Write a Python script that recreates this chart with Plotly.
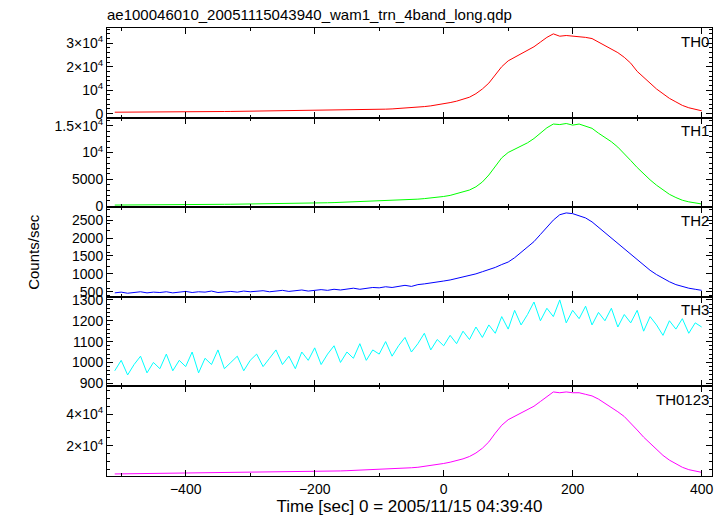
import plotly.graph_objects as go

time_sec = list(range(-510, 401, 10))

# counts/sec (TH0, TH1, TH0123 in thousands)
th0_k = [0.6, 0.6, 0.62, 0.63, 0.65, 0.66, 0.68, 0.7, 0.72, 0.74, 0.76, 0.78, 0.8, 0.82, 0.84, 0.86, 0.88, 0.9, 0.92, 0.95, 0.98, 1.0,
         1.02, 1.05, 1.08, 1.1, 1.13, 1.16, 1.2, 1.23, 1.27, 1.3, 1.35, 1.4, 1.45, 1.5, 1.55, 1.6, 1.65, 1.7, 1.75, 1.8,
         1.9, 2.0, 2.15, 2.3, 2.5, 2.7, 3.0, 3.3, 3.7, 4.2,
         4.7, 5.3, 6.0, 7.0, 8.5, 10.5, 13, 16.5, 20, 22.5,
         24, 25.5, 27, 28.5, 30.5, 32.5, 34, 33, 33.3, 33,
         33, 32.5, 32, 30.5, 29, 27.5, 26, 24, 21.5, 18,
         15.5, 13, 10.5, 8.5, 6.5, 5, 3.5, 2.5, 1.8, 1.2]
th1_k = [0.2, 0.2, 0.21, 0.22, 0.22, 0.23, 0.24, 0.25, 0.25, 0.26, 0.27, 0.28, 0.29, 0.3, 0.31, 0.32, 0.33, 0.34, 0.35, 0.36, 0.38, 0.4,
         0.41, 0.42, 0.44, 0.46, 0.48, 0.5, 0.52, 0.54, 0.56, 0.58, 0.6, 0.63, 0.66, 0.7, 0.73, 0.76, 0.8, 0.84, 0.88, 0.92,
         0.97, 1.02, 1.08, 1.15, 1.22, 1.3, 1.4, 1.5, 1.65, 1.8,
         2.0, 2.3, 2.6, 3.0, 3.6, 4.5, 5.8, 7.5, 9.0, 10.0,
         10.6, 11.2, 11.8, 12.6, 13.6, 14.6, 15.3, 15.2, 15.4, 15.1,
         15.3, 14.9, 14.5, 13.6, 12.8, 12.0, 11.0, 9.8, 8.5, 7.2,
         6.0, 4.9, 3.9, 3.0, 2.2, 1.6, 1.1, 0.8, 0.6, 0.4]
th2 = [470, 490, 460, 480, 500, 470, 490, 480, 500, 470, 490, 510, 480, 500, 490, 520, 480, 500, 510, 490, 520, 500,
       510, 530, 500, 520, 540, 510, 530, 550, 520, 540, 560, 540, 570, 550, 580, 600, 570, 600, 620, 610,
       640, 620, 660, 680, 650, 700, 720, 740, 770, 800,
       830, 870, 900, 960, 1000, 1060, 1110, 1180, 1260, 1330,
       1450, 1600, 1750, 1900, 2100, 2300, 2500, 2650, 2700, 2680,
       2620, 2560, 2450, 2300, 2150, 2000, 1850, 1700, 1550, 1400,
       1250, 1100, 980, 870, 780, 700, 640, 600, 570, 540]
th3 = [960, 1010, 940, 990, 1030, 950, 1000, 970, 1040, 960, 1010, 980, 1050, 950, 1020, 990, 1060, 970, 1000, 1030, 960, 1010,
       1040, 980, 1020, 1060, 990, 1030, 970, 1050, 1010, 1070, 990, 1040, 1080, 1000, 1050, 1020, 1090, 1010, 1060, 1040,
       1100, 1030, 1080, 1120, 1050, 1090, 1140, 1060, 1110, 1080,
       1130, 1090, 1150, 1110, 1170, 1120, 1180, 1140, 1220, 1160,
       1250, 1180, 1230, 1290, 1200, 1260, 1220, 1300, 1190, 1250,
       1210, 1270, 1180, 1240, 1200, 1260, 1170, 1230, 1190, 1250,
       1150, 1220, 1180, 1130, 1200, 1160, 1210, 1140, 1190, 1170]
th0123_k = [2.3, 2.35, 2.35, 2.4, 2.4, 2.45, 2.45, 2.5, 2.55, 2.55, 2.6, 2.65, 2.7, 2.7, 2.75, 2.8, 2.85, 2.9, 2.95, 3.0, 3.05, 3.1,
            3.15, 3.2, 3.3, 3.35, 3.4, 3.5, 3.55, 3.65, 3.7, 3.8, 3.9, 4.0, 4.1, 4.2, 4.35, 4.5, 4.6, 4.75, 4.9, 5.0,
            5.2, 5.4, 5.6, 5.9, 6.2, 6.5, 7.0, 7.5, 8.1, 8.9,
            9.7, 10.7, 11.8, 13.3, 15.5, 18.5, 22.5, 28, 33, 36.5,
            38.5, 40.5, 42.5, 45, 48, 51, 54, 53.5, 54, 53.5,
            53.5, 52.5, 51.5, 49.5, 47, 44.5, 41.5, 38.5, 34.5, 30,
            25.5, 21.5, 17.5, 14, 11, 8.5, 6.5, 5, 4, 3.3]

band_names = ["TH0", "TH1", "TH2", "TH3", "TH0123"]
band_colors = ["#ff0000", "#00ff00", "#0000ff", "#00ffff", "#ff00ff"]
band_values = [[v * 1000 for v in th0_k], [v * 1000 for v in th1_k], th2, th3,
               [v * 1000 for v in th0123_k]]
y_ranges = [[-1700, 36500], [-200, 16500], [360, 2860], [885, 1315], [1000, 57500]]
y_ticks = [
    ([0, 10000, 20000, 30000], ["0", "10<sup>4</sup>", "2×10<sup>4</sup>", "3×10<sup>4</sup>"]),
    ([0, 5000, 10000, 15000], ["0", "5000", "10<sup>4</sup>", "1.5×10<sup>4</sup>"]),
    ([500, 1000, 1500, 2000, 2500], ["500", "1000", "1500", "2000", "2500"]),
    ([900, 1000, 1100, 1200, 1300], ["900", "1000", "1100", "1200", "1300"]),
    ([20000, 40000], ["2×10<sup>4</sup>", "4×10<sup>4</sup>"]),
]

fig = go.Figure()
n = len(band_names)
axis_style = dict(showline=True, linecolor="black", linewidth=1, mirror="ticks",
                  ticks="inside", ticklen=6, tickcolor="black", showgrid=False, zeroline=False)
for i in range(n):
    suffix = "" if i == 0 else str(i + 1)
    fig.add_trace(go.Scatter(x=time_sec, y=band_values[i], mode="lines",
                             line=dict(color=band_colors[i], width=1),
                             xaxis="x" + suffix, yaxis="y" + suffix, showlegend=False))
    top = 1 - i / n
    bottom = 1 - (i + 1) / n
    fig.update_layout({
        "xaxis" + suffix: dict(axis_style, domain=[0, 1], anchor="y" + suffix, range=[-522, 416],
                               tickvals=[-400, -200, 0, 200, 400], showticklabels=(i == n - 1),
                               matches=None if i == 0 else "x",
                               minor=dict(ticks="inside", ticklen=3, dtick=100, tickcolor="black"),
                               title=dict(text="Time [sec] 0 = 2005/11/15 04:39:40", standoff=4) if i == n - 1 else None),
        "yaxis" + suffix: dict(axis_style, domain=[bottom, top], anchor="x" + suffix, range=y_ranges[i],
                               tickvals=y_ticks[i][0], ticktext=y_ticks[i][1],
                               minor=dict(ticks="inside", ticklen=3, tickcolor="black")),
    })
    fig.add_annotation(text=band_names[i], xref="paper", yref="paper", x=0.998, y=top - 0.006,
                       xanchor="right", yanchor="top", showarrow=False, font=dict(size=15))

fig.add_annotation(text="Counts/sec", xref="paper", yref="paper", x=-0.14, y=0.5,
                   textangle=-90, showarrow=False, font=dict(size=15))
# page body adds 8px around the figure, so size and margins are shrunk to match
fig.update_layout(
    width=708, height=508,
    margin=dict(l=99, r=2, t=20, b=40),
    paper_bgcolor="white", plot_bgcolor="white",
    font=dict(family="Liberation Sans, Arial", size=14, color="black"),
    title=dict(text="ae100046010_20051115043940_wam1_trn_4band_long.qdp",
               x=99 / 708, xanchor="left", y=1 - 7 / 508, yanchor="middle", font=dict(size=15)),
)
fig.write_html("out.html")
